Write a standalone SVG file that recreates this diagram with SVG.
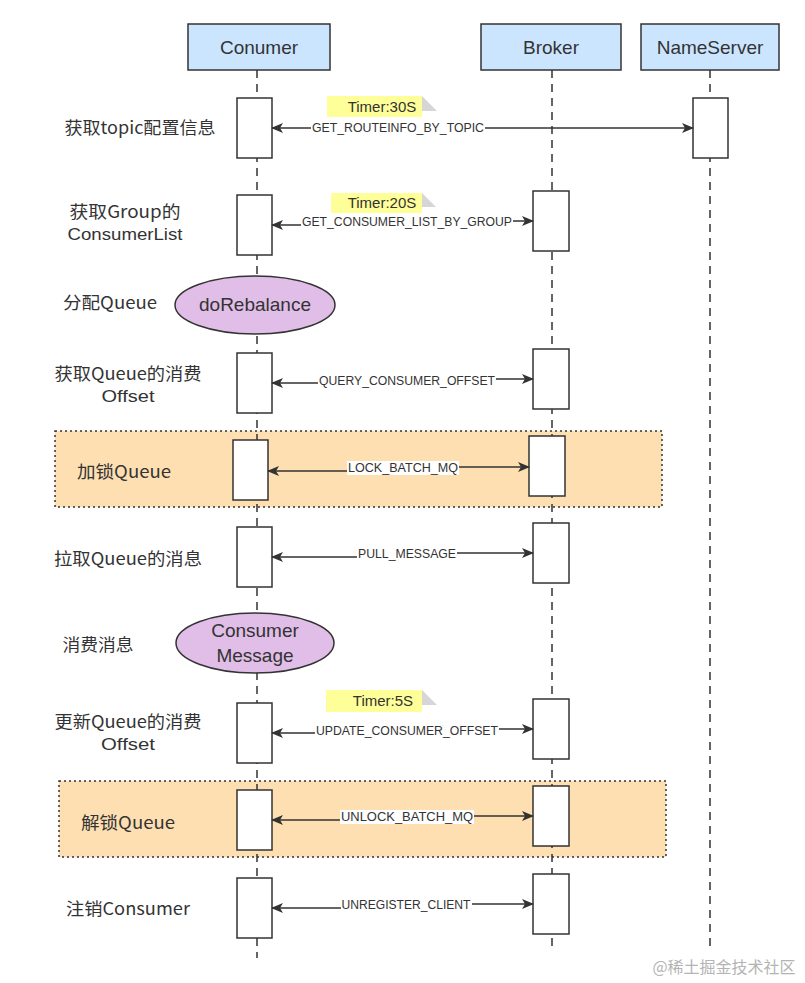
<svg xmlns="http://www.w3.org/2000/svg" width="805" height="983" viewBox="0 0 805 983">
<defs>
<style>
.hdr{fill:#cce5ff;stroke:#333;stroke-width:1.5}
.hdrt{font-family:"Liberation Sans","Noto Sans CJK SC",sans-serif;font-size:19px;fill:#333;text-anchor:middle}
.life{stroke:#333;stroke-width:1.5;stroke-dasharray:8 6;fill:none}
.act{fill:#fff;stroke:#333;stroke-width:1.5}
.msg{stroke:#333;stroke-width:1.6;fill:none;marker-start:url(#ah);marker-end:url(#ah)}
.lbl{font-family:"Liberation Sans",sans-serif;font-size:12px;fill:#333;text-anchor:middle}
.lblbg{fill:#fff}
.side{font-family:"Noto Sans CJK SC","Liberation Sans",sans-serif;font-size:17px;fill:#333;text-anchor:middle}
.sidel{font-family:"Liberation Sans","Noto Sans CJK SC",sans-serif;font-size:17px;fill:#333;text-anchor:middle}
.ell{fill:#e1bee7;stroke:#333;stroke-width:1.5}
.ellt{font-family:"Liberation Sans","Noto Sans CJK SC",sans-serif;font-size:19px;fill:#333;text-anchor:middle}
.note{fill:#ffff99}
.fold{fill:#d6d6d6}
.notet{font-family:"Liberation Sans",sans-serif;font-size:15px;fill:#333;text-anchor:middle}
.grp{fill:#fedfb2;stroke:#333;stroke-width:1.5;stroke-dasharray:2 3}
</style>
<marker id="ah" viewBox="0 0 12 10" refX="11" refY="5" markerWidth="12" markerHeight="10" markerUnits="userSpaceOnUse" orient="auto-start-reverse">
<path d="M0,0 L12,5 L0,10 L3,5 Z" fill="#333"/>
</marker>
</defs>
<rect width="805" height="983" fill="#fff"/>

<g id="group-lock"><rect class="grp" x="55" y="431" width="607" height="76"/></g>
<g id="group-unlock"><rect class="grp" x="59" y="781" width="607" height="76"/></g>

<g id="lifelines">
<line class="life" x1="257" y1="70" x2="257" y2="958"/>
<line class="life" x1="552" y1="70" x2="552" y2="948"/>
<line class="life" x1="710" y1="70" x2="710" y2="948"/>
</g>

<g id="consumer-header"><rect class="hdr" x="188" y="24" width="142" height="46"/><text class="hdrt" x="259" y="54">Conumer</text></g>
<g id="broker-header"><rect class="hdr" x="481" y="24" width="140" height="46"/><text class="hdrt" x="551" y="54">Broker</text></g>
<g id="nameserver-header"><rect class="hdr" x="641" y="24" width="138" height="46"/><text class="hdrt" x="710" y="54">NameServer</text></g>

<g id="activations">
<rect class="act" x="237" y="98" width="35" height="60"/>
<rect class="act" x="693" y="98" width="35" height="60"/>
<rect class="act" x="237" y="195" width="35" height="60"/>
<rect class="act" x="533" y="191" width="36" height="60"/>
<rect class="act" x="237" y="353" width="35" height="60"/>
<rect class="act" x="533" y="349" width="36" height="60"/>
<rect class="act" x="233" y="440" width="35" height="60"/>
<rect class="act" x="529" y="436" width="36" height="60"/>
<rect class="act" x="237" y="527" width="35" height="60"/>
<rect class="act" x="533" y="523" width="36" height="60"/>
<rect class="act" x="237" y="703" width="35" height="60"/>
<rect class="act" x="533" y="699" width="36" height="60"/>
<rect class="act" x="237" y="790" width="35" height="60"/>
<rect class="act" x="533" y="786" width="36" height="60"/>
<rect class="act" x="237" y="878" width="35" height="60"/>
<rect class="act" x="533" y="874" width="36" height="60"/>
</g>

<g id="ellipse-rebalance"><ellipse class="ell" cx="255" cy="305" rx="80" ry="29"/><text class="ellt" x="255" y="311">doRebalance</text></g>
<g id="ellipse-consume"><ellipse class="ell" cx="255" cy="643" rx="79" ry="30"/><text class="ellt" x="255" y="637">Consumer</text><text class="ellt" x="255" y="662">Message</text></g>

<g id="notes">
<g id="note-30s"><rect class="note" x="327" y="96" width="95" height="21"/><polygon class="fold" points="422,96 437,111 422,111"/><text class="notet" x="382" y="112">Timer:30S</text></g>
<g id="note-20s"><rect class="note" x="331" y="193" width="91" height="20"/><polygon class="fold" points="422,193 436,207 422,207"/><text class="notet" x="382" y="208">Timer:20S</text></g>
<g id="note-5s"><rect class="note" x="326" y="690" width="96" height="22"/><polygon class="fold" points="422,690 437,705 422,705"/><text class="notet" x="383" y="706">Timer:5S</text></g>
</g>

<g id="connectors">
<path class="msg" d="M693,128 H272"/>
<path class="msg" d="M533,221 H407 V225 H272"/>
<path class="msg" d="M533,379 H407 V383 H272"/>
<path class="msg" d="M529,467 H403 V471 H268"/>
<path class="msg" d="M533,553 H407 V557 H272"/>
<path class="msg" d="M533,729 H407 V733 H272"/>
<path class="msg" d="M533,816 H407 V820 H272"/>
<path class="msg" d="M533,904 H406 V908 H272"/>
<rect class="lblbg" x="311" y="121" width="174" height="14"/><text class="lbl" x="398" y="132" textLength="172" lengthAdjust="spacingAndGlyphs">GET_ROUTEINFO_BY_TOPIC</text>
<rect class="lblbg" x="301" y="215" width="212" height="14"/><text class="lbl" x="407" y="226" textLength="210" lengthAdjust="spacingAndGlyphs">GET_CONSUMER_LIST_BY_GROUP</text>
<rect class="lblbg" x="318" y="374" width="178" height="14"/><text class="lbl" x="407" y="385" textLength="176" lengthAdjust="spacingAndGlyphs">QUERY_CONSUMER_OFFSET</text>
<rect class="lblbg" x="347" y="461" width="112" height="14"/><text class="lbl" x="403" y="472" textLength="110" lengthAdjust="spacingAndGlyphs">LOCK_BATCH_MQ</text>
<rect class="lblbg" x="357" y="547" width="100" height="14"/><text class="lbl" x="407" y="558" textLength="98" lengthAdjust="spacingAndGlyphs">PULL_MESSAGE</text>
<rect class="lblbg" x="315" y="724" width="184" height="14"/><text class="lbl" x="407" y="735" textLength="182" lengthAdjust="spacingAndGlyphs">UPDATE_CONSUMER_OFFSET</text>
<rect class="lblbg" x="340" y="810" width="134" height="14"/><text class="lbl" x="407" y="821" textLength="132" lengthAdjust="spacingAndGlyphs">UNLOCK_BATCH_MQ</text>
<rect class="lblbg" x="341" y="898" width="131" height="14"/><text class="lbl" x="406" y="909" textLength="129" lengthAdjust="spacingAndGlyphs">UNREGISTER_CLIENT</text>
</g>

<g id="side-labels">
<text class="side" x="140" y="134" textLength="151" lengthAdjust="spacingAndGlyphs">获取topic配置信息</text>
<text class="side" x="125" y="218" textLength="111" lengthAdjust="spacingAndGlyphs">获取Group的</text>
<text class="sidel" x="125" y="240" textLength="115" lengthAdjust="spacingAndGlyphs">ConsumerList</text>
<text class="side" x="110" y="309" textLength="94" lengthAdjust="spacingAndGlyphs">分配Queue</text>
<text class="side" x="128" y="380" textLength="147" lengthAdjust="spacingAndGlyphs">获取Queue的消费</text>
<text class="sidel" x="128" y="402" textLength="53" lengthAdjust="spacingAndGlyphs">Offset</text>
<text class="side" x="124" y="478" textLength="94" lengthAdjust="spacingAndGlyphs">加锁Queue</text>
<text class="side" x="128" y="565" textLength="148" lengthAdjust="spacingAndGlyphs">拉取Queue的消息</text>
<text class="side" x="98" y="651" textLength="71" lengthAdjust="spacingAndGlyphs">消费消息</text>
<text class="side" x="128" y="728" textLength="147" lengthAdjust="spacingAndGlyphs">更新Queue的消费</text>
<text class="sidel" x="128" y="750" textLength="54" lengthAdjust="spacingAndGlyphs">Offset</text>
<text class="side" x="128" y="829" textLength="94" lengthAdjust="spacingAndGlyphs">解锁Queue</text>
<text class="side" x="128" y="915" textLength="124" lengthAdjust="spacingAndGlyphs">注销Consumer</text>
</g>

<text x="724" y="973" style="font-family:'Noto Sans CJK SC',sans-serif;font-size:16px;fill:#b4b4b4;text-anchor:middle">@稀土掘金技术社区</text>
</svg>
